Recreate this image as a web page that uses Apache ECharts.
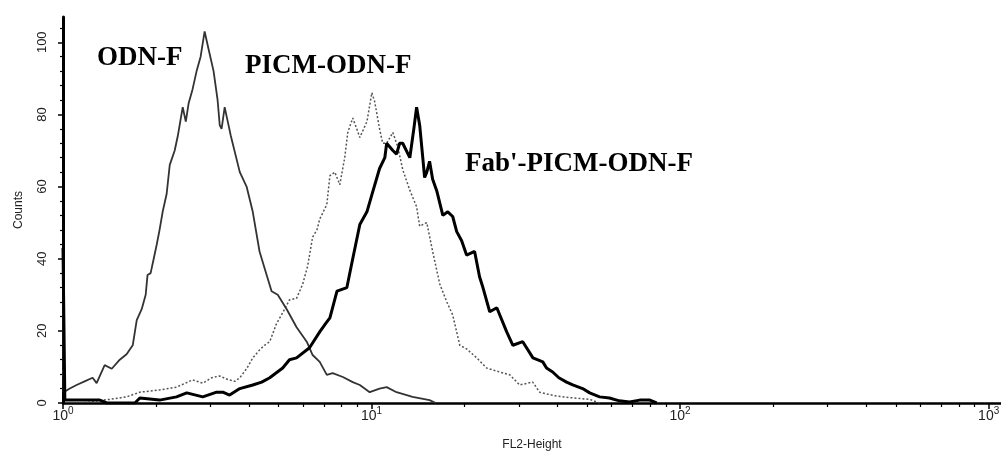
<!DOCTYPE html>
<html>
<head>
<meta charset="utf-8">
<script src="https://cdn.jsdelivr.net/npm/echarts@6/dist/echarts.min.js"></script>
<style>
  html, body { margin: 0; padding: 0; background: #fff; }
  #chart { width: 1001px; height: 452px; }
</style>
</head>
<body>
<div id="chart"></div>
<script>
// x values are log10(FL2-Height), y values are counts
const odnX = [0, 0.002, 0.022, 0.044, 0.070, 0.096, 0.109, 0.135, 0.158, 0.184, 0.206, 0.226, 0.239, 0.255, 0.268, 0.274, 0.284, 0.294, 0.304, 0.313, 0.323, 0.336, 0.346, 0.362, 0.372, 0.388, 0.398, 0.407, 0.420, 0.433, 0.446, 0.459, 0.472, 0.488, 0.501, 0.508, 0.514, 0.524, 0.534, 0.544, 0.573, 0.595, 0.615, 0.637, 0.660, 0.676, 0.696, 0.725, 0.757, 0.790, 0.809, 0.832, 0.855, 0.874, 0.907, 0.939, 0.962, 0.994, 1.026, 1.049, 1.081, 1.133, 1.188, 1.208]
const odnY = [30, 3, 4, 5, 6, 7, 5.5, 10.5, 9.5, 12, 13.5, 16, 23, 26, 30, 35.5, 36, 40, 44, 48, 53, 58, 66, 70, 74, 82, 78, 83, 87, 92, 96, 103, 98, 92, 84, 77, 76, 82, 78, 74, 64, 60, 53, 42, 35.5, 31, 30, 26, 21, 17, 13.3, 11.4, 7.8, 8.3, 7.2, 5.8, 5, 3, 4, 4.4, 3, 1.7, 0.8, 0]

const picmX = [0, 0.006, 0.054, 0.103, 0.151, 0.206, 0.249, 0.281, 0.313, 0.368, 0.420, 0.453, 0.482, 0.508, 0.534, 0.557, 0.573, 0.595, 0.615, 0.637, 0.653, 0.670, 0.692, 0.712, 0.734, 0.757, 0.777, 0.793, 0.809, 0.823, 0.832, 0.855, 0.865, 0.881, 0.897, 0.913, 0.923, 0.939, 0.952, 0.962, 0.985, 1.001, 1.010, 1.026, 1.036, 1.049, 1.069, 1.085, 1.101, 1.124, 1.146, 1.156, 1.179, 1.198, 1.221, 1.244, 1.263, 1.286, 1.308, 1.341, 1.373, 1.415, 1.448, 1.480, 1.522, 1.545, 1.593, 1.642, 1.707, 1.739]
const picmY = [9, 1, 0.8, 0.5, 1, 1.7, 3, 3.3, 3.6, 4.4, 6.4, 5.5, 7, 7.5, 6.5, 6, 7, 9.5, 12.5, 14.7, 16, 17, 22, 25, 28.6, 29, 33, 38, 46, 48, 51, 55, 63, 64, 60.5, 68, 75, 79, 76, 73.6, 78, 86, 83.6, 76, 72, 72, 75, 71, 64.7, 59, 54.4, 49, 50, 42, 33, 28, 24.4, 16, 15, 12.5, 9.7, 8.6, 7.8, 5, 5.8, 3, 2, 1.5, 1, 0]

const fabX = [0, 0.006, 0.054, 0.119, 0.142, 0.233, 0.249, 0.313, 0.368, 0.401, 0.453, 0.498, 0.518, 0.540, 0.573, 0.615, 0.644, 0.670, 0.712, 0.734, 0.757, 0.799, 0.832, 0.851, 0.865, 0.888, 0.920, 0.939, 0.962, 0.985, 1.004, 1.026, 1.043, 1.049, 1.069, 1.081, 1.091, 1.101, 1.124, 1.137, 1.146, 1.156, 1.166, 1.172, 1.179, 1.188, 1.198, 1.212, 1.231, 1.247, 1.263, 1.276, 1.292, 1.308, 1.334, 1.350, 1.361, 1.383, 1.406, 1.438, 1.458, 1.490, 1.523, 1.555, 1.567, 1.587, 1.607, 1.632, 1.652, 1.684, 1.707, 1.739, 1.771, 1.803, 1.836, 1.869, 1.902, 1.924]
const fabY = [43, 0.8, 0.8, 0.8, 0, 0, 1.4, 0.8, 1.7, 2.8, 1.7, 3, 3, 2.2, 4, 5, 5.8, 7, 9.7, 12, 12.5, 15.3, 19.7, 22, 23.6, 31, 32, 40, 49.5, 53, 58.6, 65, 68, 72, 70, 69, 72, 72, 68, 76, 82, 77, 68, 62.5, 64, 67, 62, 58.6, 52, 53, 51.7, 47.5, 45, 41, 42, 35, 32, 25.3, 26.4, 19.7, 16, 17, 12.5, 11.4, 9.7, 8.6, 7, 5.8, 5, 4, 2.8, 1.7, 1.4, 0.6, 0.3, 0.8, 0.8, 0]

const decadeExponents = [0, 1, 2, 3]
const countTicks = [0, 20, 40, 60, 80, 100]

const zip = (xs, ys) => xs.map((x, i) => [x, ys[i]])

// minor log ticks at 2..9 of each decade
const minorLogTicks = []
decadeExponents.slice(0, 3).forEach((e) => {
  for (let m = 2; m <= 9; m++) minorLogTicks.push(e + Math.log10(m))
})
const minorCountTicks = []
for (let v = 4; v <= 104; v += 4) if (v % 20 !== 0) minorCountTicks.push(v)

const chart = echarts.init(document.getElementById('chart'))

const labelFont = { fontFamily: 'Liberation Sans', color: '#222' }
const noteFont = 'bold 27px "Liberation Serif"'

const option = {
  backgroundColor: '#fff',
  animation: false,
  grid: { left: 63, right: 0, top: 17, bottom: 49, outerBoundsMode: 'none', containLabel: false },
  xAxis: [
    {
      type: 'value',
      min: 0,
      max: 3.04,
      name: 'FL2-Height',
      nameLocation: 'middle',
      nameGap: 36,
      nameTextStyle: { ...labelFont, fontSize: 12 },
      splitLine: { show: false },
      axisLine: { lineStyle: { color: '#000', width: 2.5 } },
      axisTick: { customValues: decadeExponents, length: 6, lineStyle: { color: '#000', width: 1.5 } },
      axisLabel: {
        customValues: decadeExponents,
        margin: 3,
        formatter: (v) => '{b|10}{s|' + Math.round(v) + '}',
        rich: {
          b: { ...labelFont, fontSize: 14, lineHeight: 17, verticalAlign: 'bottom' },
          s: { ...labelFont, fontSize: 10, lineHeight: 17, verticalAlign: 'top' }
        }
      }
    },
    {
      type: 'value',
      min: 0,
      max: 3.04,
      position: 'bottom',
      splitLine: { show: false },
      axisLine: { show: false },
      axisLabel: { show: false },
      axisTick: { customValues: minorLogTicks, length: 4, lineStyle: { color: '#000', width: 1.2 } }
    }
  ],
  yAxis: [
    {
      type: 'value',
      min: 0,
      max: 107,
      name: 'Counts',
      nameLocation: 'middle',
      nameRotate: 90,
      nameGap: 38,
      nameTextStyle: { ...labelFont, fontSize: 12 },
      splitLine: { show: false },
      axisLine: { lineStyle: { color: '#000', width: 3 } },
      axisTick: { customValues: countTicks, length: 5, lineStyle: { color: '#000', width: 1.5 } },
      axisLabel: { customValues: countTicks, rotate: 90, margin: 14, ...labelFont, fontSize: 13 }
    },
    {
      type: 'value',
      min: 0,
      max: 107,
      splitLine: { show: false },
      axisLine: { show: false },
      axisLabel: { show: false },
      position: 'left',
      axisTick: { customValues: minorCountTicks, length: 3, lineStyle: { color: '#000', width: 1.2 } }
    }
  ],
  series: [
    {
      name: 'ODN-F',
      type: 'line',
      data: zip(odnX, odnY),
      showSymbol: false,
      lineStyle: { color: '#333', width: 1.8 },
      z: 3
    },
    {
      name: 'PICM-ODN-F',
      type: 'line',
      data: zip(picmX, picmY),
      showSymbol: false,
      lineStyle: { color: '#555', width: 1.5, type: [2, 2] },
      z: 2
    },
    {
      name: "Fab'-PICM-ODN-F",
      type: 'line',
      data: zip(fabX, fabY),
      showSymbol: false,
      lineStyle: { color: '#000', width: 3 },
      z: 4
    }
  ],
  graphic: [
    { type: 'text', x: 97, y: 58, style: { text: 'ODN-F', font: noteFont, fill: '#000', verticalAlign: 'middle' } },
    { type: 'text', x: 245, y: 66, style: { text: 'PICM-ODN-F', font: noteFont, fill: '#000', verticalAlign: 'middle' } },
    { type: 'text', x: 465, y: 164, style: { text: "Fab'-PICM-ODN-F", font: noteFont, fill: '#000', verticalAlign: 'middle' } }
  ]
}

chart.setOption(option)
</script>
</body>
</html>
